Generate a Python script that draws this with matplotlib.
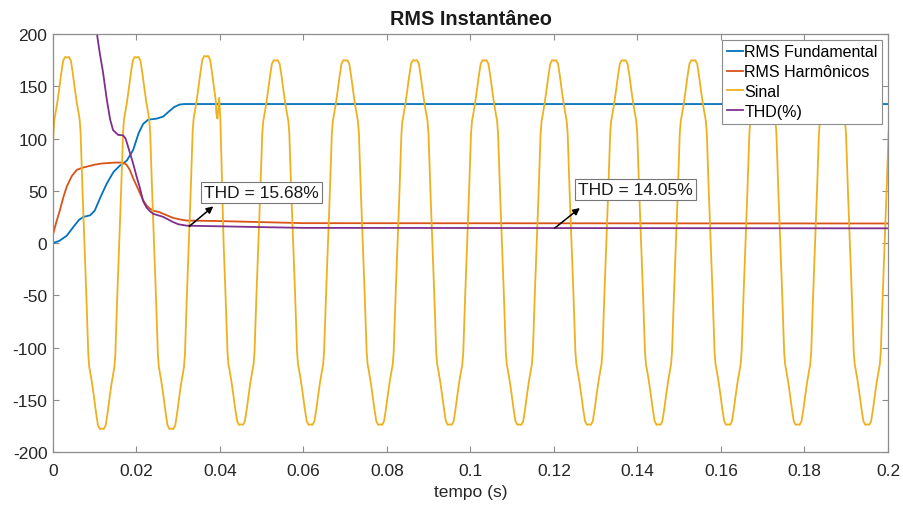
import numpy as np
import matplotlib
matplotlib.use('Agg')
import matplotlib.pyplot as plt
from matplotlib.ticker import FormatStrFormatter

plt.rcParams['font.family'] = ['Liberation Sans', 'DejaVu Sans']
plt.rcParams['axes.unicode_minus'] = False

# RMS of the fundamental
t_fund = [0, 0.0015, 0.0033, 0.0050, 0.0062, 0.0073, 0.0089, 0.0100, 0.0115,
          0.0129, 0.0145, 0.0160, 0.0168, 0.0177, 0.0192, 0.0205, 0.0216,
          0.0228, 0.0248, 0.0264, 0.0278, 0.0290, 0.0303, 0.0315, 0.2]
rms_fund = [0, 2, 7, 16, 22, 25, 26.5, 31, 45, 57, 68, 74, 76, 79, 89, 105,
            114, 118, 119, 121, 126, 130, 132.5, 133, 133]

# RMS of the harmonics
t_harm = [0, 0.0008, 0.0017, 0.0025, 0.0033, 0.0045, 0.0057, 0.0070, 0.0085,
          0.0100, 0.0115, 0.0130, 0.0150, 0.0168, 0.0176, 0.0184, 0.0192,
          0.0200, 0.0208, 0.0216, 0.0224, 0.0232, 0.0240, 0.0255, 0.0270,
          0.0288, 0.0305, 0.0320, 0.0400, 0.0500, 0.0600, 0.2]
rms_harm = [8, 20, 32, 44, 54, 64, 70, 72, 73.5, 75, 76, 76.5, 77, 77, 75, 70,
            62, 55, 48, 41, 36, 33, 31, 29.5, 27, 24, 22.5, 21.5, 21, 20, 19,
            18.7]

# THD in percent
t_thd = [0.0080, 0.0095, 0.0105, 0.0112, 0.0120, 0.0129, 0.0137, 0.0144,
         0.0156, 0.0168, 0.0174, 0.0180, 0.0186, 0.0192, 0.0200, 0.0208,
         0.0216, 0.0224, 0.0232, 0.0240, 0.0252, 0.0264, 0.0276, 0.0288,
         0.0300, 0.0320, 0.0400, 0.0500, 0.0600, 0.2]
thd = [350, 245, 201, 182, 163, 137, 118, 108, 103.5, 103, 100, 92, 84, 76,
       64, 53, 40, 34, 30.5, 28, 26.5, 25, 22.5, 20, 18, 16.6, 16.0, 15.2,
       14.5, 14.05]

# signal: one half wave, phase in degrees
f_sig = 60.0
t_start = -0.0008
half_phase = [0, 10, 20, 25, 30, 40, 50, 60, 70, 80, 90, 100, 110, 120, 130,
              140, 150, 155, 160, 170]
half_shape = [0, 50, 105, 117, 122, 133, 146, 160, 172, 175.5, 175, 175.5,
              172, 160, 146, 133, 122, 117, 105, 50]
half_peak = [178, -178, 178, -178, 179, -174] + [175, -174] * 9 + [175]
# small spike on the third cycle
glitch_t = [0.0391, 0.0394, 0.0398, 0.0401, 0.0403, 0.0405]
glitch_v = [125, 119, 139, 118, 88, 60]

# annotations
ann_text = ['THD = 15.68%', 'THD = 14.05%']
ann_tail = [(0.03265, 16.0), (0.1202, 14.35)]
ann_head = [(0.0384, 35.1), (0.1262, 33.5)]
ann_box = [(0.0362, 48.6), (0.1257, 51.0)]

T = 1.0 / f_sig
sig_t, sig_v = [], []
for k, pk in enumerate(half_peak):
    for ph, v in zip(half_phase, half_shape):
        sig_t.append(t_start + k * T / 2 + ph / 360.0 * T)
        sig_v.append(v * pk / 175.5)
sig_t = np.array(sig_t)
sig_v = np.array(sig_v)
keep = (sig_t < glitch_t[0]) | (sig_t > glitch_t[-1])
sig_t = np.concatenate([sig_t[keep], glitch_t])
sig_v = np.concatenate([sig_v[keep], glitch_v])
order = np.argsort(sig_t)
sig_t, sig_v = sig_t[order], sig_v[order]

fig = plt.figure(figsize=(9.04, 5.06), dpi=100)
ax = fig.add_axes([0.0586, 0.1047, 0.9237, 0.8261])

lw = 1.3
ax.plot(t_fund, rms_fund, color='#0072BD', lw=lw, label='RMS Fundamental')
ax.plot(t_harm, rms_harm, color='#D95319', lw=lw, label='RMS Harmônicos')
ax.plot(sig_t, sig_v, color='#EDB120', lw=lw, label='Sinal')
ax.plot(t_thd, thd, color='#7E2F8E', lw=lw, label='THD(%)')

for txt, tail, head, box in zip(ann_text, ann_tail, ann_head, ann_box):
    ax.annotate('', xy=head, xytext=tail,
                arrowprops=dict(arrowstyle='-|>', color='k', lw=1.1,
                                mutation_scale=10, shrinkA=0, shrinkB=0))
    ax.text(box[0], box[1], txt, ha='left', va='center', fontsize=12.5,
            color='#1a1a1a',
            bbox=dict(boxstyle='square,pad=0.18', fc='white', ec='#777777',
                      lw=0.8))

ax.set_xlim(0, 0.2)
ax.set_ylim(-200, 200)
ax.set_xticks(np.arange(0, 0.2001, 0.02))
ax.set_yticks(np.arange(-200, 201, 50))
ax.xaxis.set_major_formatter(FormatStrFormatter('%g'))
ax.tick_params(direction='in', top=True, right=True, length=4, width=0.8,
               color='#8c8c8c', labelsize=12.5, labelcolor='#262626', pad=4)
ax.tick_params(axis='x', pad=8)
for s in ax.spines.values():
    s.set_color('#8c8c8c')
    s.set_linewidth(0.9)

ax.set_title('RMS Instantâneo', fontsize=14.3, fontweight='bold',
             color='#1a1a1a', pad=7)
ax.set_xlabel('tempo (s)', fontsize=12.5, color='#262626', labelpad=4)

leg = ax.legend(loc='upper right', fontsize=11.5, fancybox=False,
                framealpha=1, edgecolor='#8c8c8c', handlelength=1.0,
                handletextpad=0.1, labelspacing=0.3, borderpad=0.3,
                borderaxespad=0.35)
leg.get_frame().set_linewidth(0.8)

fig.savefig('out.png', dpi=100)
